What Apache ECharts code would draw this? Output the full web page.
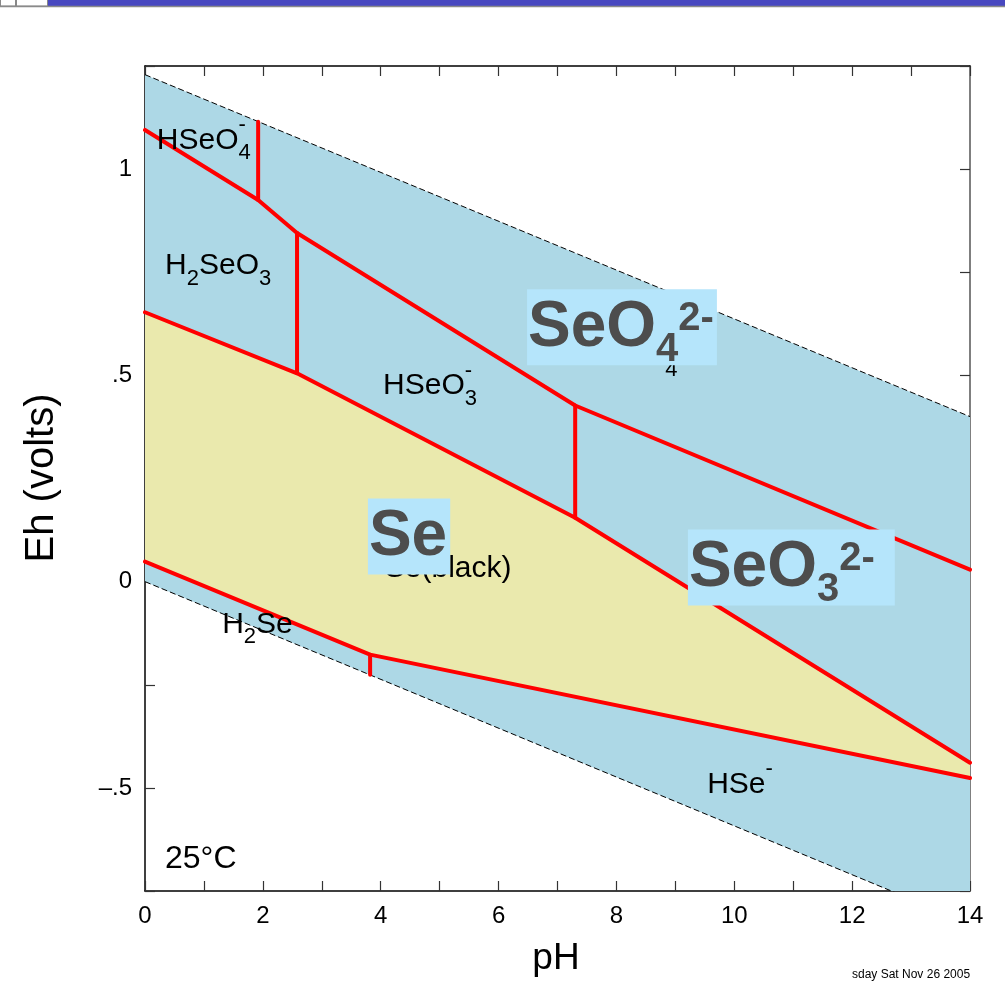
<!DOCTYPE html>
<html>
<head>
<meta charset="utf-8">
<script src="https://cdn.jsdelivr.net/npm/echarts@6/dist/echarts.min.js"></script>
<style>
  html, body { margin: 0; padding: 0; background: #fff; }
  #chart { width: 1005px; height: 984px; }
</style>
</head>
<body>
<div id="chart"></div>
<script>
// Eh–pH diagram for selenium at 25 °C. Every point is [pH, Eh (V)].

// Water stability limits (O2/H2O above, H2O/H2 below)
const waterUpper = [[0, 1.229], [14, 0.400]];
const waterLower = [[0, 0.000], [14, -0.829]];

// Species boundaries
const oxidizedTop  = [[0, 1.095], [1.92, 0.925], [2.58, 0.845], [7.30, 0.427], [14, 0.029]];
const hseo4Split   = [[1.92, 0.925], [1.92, 1.115]];
const h2seo3Split  = [[2.58, 0.845], [2.58, 0.505]];
const hseo3Split   = [[7.30, 0.427], [7.30, 0.155]];
const seTop        = [[0, 0.653], [2.58, 0.505], [7.30, 0.155], [14, -0.439]];
const seBottom     = [[0, 0.0485], [3.82, -0.177], [14, -0.476]];
const h2seSplit    = [[3.82, -0.177], [3.82, -0.226]];

// Axis ticks
const xLabelValues = [0, 2, 4, 6, 8, 10, 12, 14];
const yLabelValues = [-0.5, 0, 0.5, 1];
const yLabelTexts  = ['–.5', '0', '.5', '1'];

// Field labels: anchor is [pH, Eh] at the left end of the text baseline
const smallLabels = [
  { at: [0.20, 1.044], parts: [['HSeO', 'm'], ['4', 'sub'], ['-', 'sup']] },
  { at: [0.34, 0.740], parts: [['H', 'm'], ['2', 'sub'], ['SeO', 'm'], ['3', 'sub']] },
  { at: [4.04, 0.449], parts: [['HSeO', 'm'], ['3', 'sub'], ['-', 'sup']] },
  { at: [7.81, 0.519], parts: [['SeO', 'm'], ['4', 'sub'], ['2-', 'sup']] },
  { at: [4.07, 0.007], parts: [['Se(black)', 'm']] },
  { at: [1.31, -0.129], parts: [['H', 'm'], ['2', 'sub'], ['Se', 'm']] },
  { at: [9.54, -0.517], parts: [['HSe', 'm'], ['-', 'sup']] }
];
const bigLabels = [
  { at: [6.50, 0.5607], parts: [['SeO', 'm'], ['4', 'sub'], ['2-', 'sup']] },
  { at: [3.80, 0.0534], parts: [['Se', 'm']] },
  { at: [9.23, -0.0218], parts: [['SeO', 'm'], ['3', 'sub'], ['2-', 'sup']], padR: 20 }
];

const FONT = '"Liberation Sans", Arial, Helvetica, sans-serif';
const SMALL = { size: 30, sub: 22, subDy: 10, supDy: -18, stack: true, weight: 'normal', color: '#000' };
const BIG = { size: 64, sub: 40, subDy: 13, supDy: -18, stack: false, weight: 'bold', color: '#4d4d4d',
              box: '#b5e5fb', boxTop: 61, boxBottom: 15, padL: 1, padR: 3 };

const measureCtx = document.createElement('canvas').getContext('2d');
function textWidth(text, size, weight) {
  measureCtx.font = weight + ' ' + size + 'px ' + FONT;
  return measureCtx.measureText(text).width;
}
// canvas 'middle' sits about 0.3465 em above the alphabetic baseline
function midY(baseline, size) { return baseline - 0.3465 * size; }

function buildLabel(label, origin, st) {
  const texts = [];
  let x = origin[0];
  let subStart = null;
  let prev = null;
  for (const [t, kind] of label.parts) {
    const size = kind === 'm' ? st.size : st.sub;
    const dy = kind === 'sub' ? st.subDy : kind === 'sup' ? st.supDy : 0;
    let rx = x;
    if (kind === 'sup' && st.stack && prev === 'sub') rx = subStart;
    const w = textWidth(t, size, st.weight);
    if (kind === 'sub') subStart = rx;
    texts.push({
      type: 'text',
      x: rx,
      y: midY(origin[1] + dy, size),
      style: {
        text: t, fontSize: size, fontFamily: FONT, fontWeight: st.weight, fill: st.color,
        align: 'left', verticalAlign: 'middle', textAlign: 'left', textVerticalAlign: 'middle'
      }
    });
    x = Math.max(x, rx + w);
    prev = kind;
  }
  const children = [];
  if (st.box) {
    const padR = label.padR != null ? label.padR : st.padR;
    children.push({
      type: 'rect',
      shape: { x: origin[0] - st.padL, y: origin[1] - st.boxTop,
               width: x - origin[0] + st.padL + padR, height: st.boxTop + st.boxBottom },
      style: { fill: st.box }
    });
  }
  return { type: 'group', children: children.concat(texts) };
}

function labelSeries(list, st, z) {
  return {
    type: 'custom', z: z, silent: true, clip: false,
    data: list.map((l, i) => [l.at[0], l.at[1], i]),
    encode: { x: 0, y: 1 },
    renderItem: (params, api) => {
      const l = list[api.value(2)];
      return buildLabel(l, api.coord(l.at), st);
    }
  };
}

function areaSeries(points, color, z) {
  return {
    type: 'custom', z: z, silent: true, clip: true,
    data: [[points[0][0], points[0][1]]],
    renderItem: (params, api) => ({
      type: 'polygon',
      shape: { points: points.map(p => api.coord(p)) },
      style: { fill: color }
    })
  };
}

function lineSeries(data, style, z, clip) {
  return {
    type: 'line', data: data, z: z, silent: true, clip: clip,
    showSymbol: false, symbol: 'none',
    lineStyle: style
  };
}

const waterField = waterUpper.concat(waterLower.slice().reverse());
const seField = seTop.concat(seBottom.slice().reverse());

const RED = { color: '#ff0000', width: 4, cap: 'round', join: 'round' };
const DASH = { color: '#000', width: 1, type: [6, 3] };

const tickStyle = { show: true, inside: true, length: 10, lineStyle: { color: '#333', width: 1.2 } };

const chart = echarts.init(document.getElementById('chart'), null, { renderer: 'canvas' });
chart.setOption({
  animation: false,
  backgroundColor: '#fff',
  grid: { left: 145, right: 35, top: 66, bottom: 93, containLabel: false, outerBoundsMode: 'none' },
  xAxis: [
    {
      type: 'value', min: 0, max: 14, interval: 1, position: 'bottom',
      axisLine: { show: true, onZero: false, lineStyle: { color: '#000', width: 1.5 } },
      axisTick: tickStyle,
      splitLine: { show: false },
      axisLabel: {
        show: true, margin: 13, fontSize: 24, fontFamily: FONT, color: '#000',
        showMinLabel: true, showMaxLabel: true,
        formatter: v => (xLabelValues.indexOf(v) >= 0 ? String(v) : '')
      }
    },
    {
      type: 'value', min: 0, max: 14, interval: 1, position: 'top',
      axisLine: { show: true, onZero: false, lineStyle: { color: '#000', width: 1.5 } },
      axisTick: tickStyle,
      splitLine: { show: false },
      axisLabel: { show: false }
    }
  ],
  yAxis: [
    {
      type: 'value', min: -0.75, max: 1.25, interval: 0.25, position: 'left',
      axisLine: { show: true, onZero: false, lineStyle: { color: '#000', width: 1.5 } },
      axisTick: tickStyle,
      splitLine: { show: false },
      axisLabel: {
        show: true, margin: 13, fontSize: 24, fontFamily: FONT, color: '#000',
        showMinLabel: true, showMaxLabel: true,
        formatter: v => {
          const i = yLabelValues.findIndex(t => Math.abs(t - v) < 1e-9);
          return i >= 0 ? yLabelTexts[i] : '';
        }
      }
    },
    {
      type: 'value', min: -0.75, max: 1.25, interval: 0.25, position: 'right',
      axisLine: { show: true, onZero: false, lineStyle: { color: '#555', width: 1.5 } },
      axisTick: tickStyle,
      splitLine: { show: false },
      axisLabel: { show: false }
    }
  ],
  series: [
    areaSeries(waterField, '#add8e6', 1),
    areaSeries(seField, '#eae9ad', 1),
    lineSeries(waterUpper, DASH, 2, true),
    lineSeries(waterLower, DASH, 2, true),
    lineSeries(oxidizedTop, RED, 3, false),
    lineSeries(hseo4Split, RED, 3, false),
    lineSeries(h2seo3Split, RED, 3, false),
    lineSeries(hseo3Split, RED, 3, false),
    lineSeries(seTop, RED, 3, false),
    lineSeries(seBottom, RED, 3, false),
    lineSeries(h2seSplit, RED, 3, false),
    labelSeries(smallLabels, SMALL, 4),
    labelSeries(bigLabels, BIG, 5)
  ],
  graphic: [
    // window strip along the top edge
    { type: 'rect', shape: { x: 48, y: 0, width: 957, height: 6 }, style: { fill: '#4848c0' }, z: 10 },
    { type: 'rect', shape: { x: 0.5, y: -1, width: 15, height: 7 }, style: { fill: '#fff', stroke: '#888', lineWidth: 1 }, z: 10 },
    { type: 'rect', shape: { x: 16.5, y: -1, width: 31, height: 7 }, style: { fill: '#fff', stroke: '#888', lineWidth: 1 }, z: 10 },
    { type: 'line', shape: { x1: 0, y1: 6.5, x2: 1005, y2: 6.5 }, style: { stroke: '#8a8a8a', lineWidth: 1.5 }, z: 10 },
    // axis titles and annotations
    { type: 'text', x: 556, y: midY(972, 37), z: 10,
      style: { text: 'pH', fontSize: 37, fontFamily: FONT, fill: '#000', align: 'center', verticalAlign: 'middle', textAlign: 'center', textVerticalAlign: 'middle' } },
    { type: 'text', x: 42, y: 478, rotation: Math.PI / 2, z: 10,
      style: { text: 'Eh (volts)', fontSize: 40, fontFamily: FONT, fill: '#000', align: 'center', verticalAlign: 'middle', textAlign: 'center', textVerticalAlign: 'middle' } },
    { type: 'text', x: 165, y: midY(870, 32), z: 10,
      style: { text: '25°C', fontSize: 32, fontFamily: FONT, fill: '#000', align: 'left', verticalAlign: 'middle', textAlign: 'left', textVerticalAlign: 'middle' } },
    { type: 'text', x: 852, y: midY(979, 12), z: 10,
      style: { text: 'sday Sat Nov 26 2005', fontSize: 12, fontFamily: FONT, fill: '#000', align: 'left', verticalAlign: 'middle', textAlign: 'left', textVerticalAlign: 'middle' } }
  ]
});
</script>
</body>
</html>
